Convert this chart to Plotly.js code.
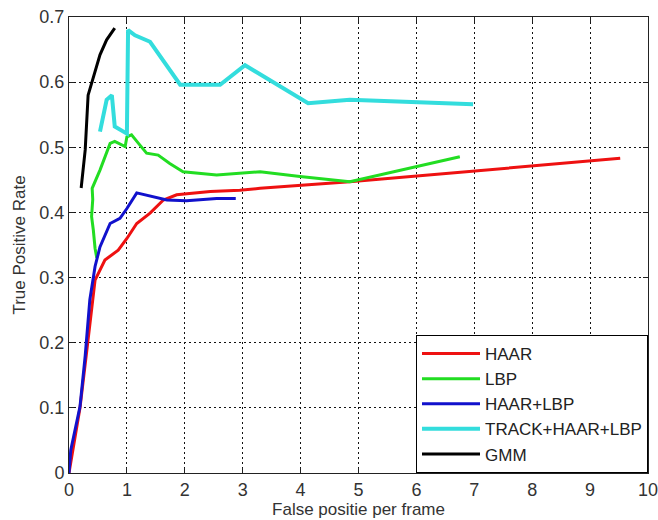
<!DOCTYPE html>
<html>
<head>
<meta charset="utf-8">
<script src="https://cdn.plot.ly/plotly-3.0.1.min.js"></script>
<style>html,body{margin:0;padding:0;background:#fff;}#chart{width:658px;height:520px;}</style>
</head>
<body>
<div id="chart"></div>
<script>
// Series (x: false positives per frame, y: true positive rate)
const haarX = [0, 0.02, 0.19, 0.31, 0.39, 0.45, 0.62, 0.85, 1.0, 1.17, 1.40, 1.63, 1.86, 2.44, 2.95, 3.3, 4.85, 8.13, 9.52];
const haarY = [0, 0.01, 0.10, 0.19, 0.255, 0.296, 0.327, 0.342, 0.36, 0.383, 0.399, 0.419, 0.427, 0.432, 0.434, 0.437, 0.447, 0.473, 0.483];

const lbpX = [0.48, 0.45, 0.42, 0.39, 0.41, 0.40, 0.535, 0.71, 0.79, 0.97, 1.0, 1.08, 1.2, 1.34, 1.54, 1.74, 1.97, 2.55, 3.3, 3.99, 4.85, 6.75];
const lbpY = [0.33, 0.345, 0.373, 0.394, 0.42, 0.437, 0.465, 0.506, 0.509, 0.501, 0.516, 0.519, 0.506, 0.491, 0.488, 0.475, 0.4625, 0.4575, 0.4625, 0.455, 0.447, 0.4855];

const haarLbpX = [0, 0.03, 0.19, 0.28, 0.36, 0.45, 0.535, 0.71, 0.88, 1.0, 1.17, 1.46, 1.69, 2.03, 2.55, 2.88];
const haarLbpY = [0, 0.035, 0.102, 0.18, 0.266, 0.317, 0.347, 0.383, 0.391, 0.406, 0.43, 0.424, 0.419, 0.418, 0.4215, 0.4215];

const trackX = [0.535, 0.65, 0.74, 0.79, 1.0, 1.02, 1.14, 1.40, 1.92, 2.61, 3.04, 4.13, 4.85, 6.98];
const trackY = [0.524, 0.573, 0.58, 0.532, 0.521, 0.68, 0.672, 0.662, 0.596, 0.596, 0.626, 0.5675, 0.573, 0.566];

const gmmX = [0.21, 0.28, 0.33, 0.42, 0.535, 0.65, 0.79];
const gmmY = [0.4375, 0.496, 0.58, 0.608, 0.642, 0.665, 0.683];

const seriesNames = ['HAAR', 'LBP', 'HAAR+LBP', 'TRACK+HAAR+LBP', 'GMM'];
const xTicks = [0, 1, 2, 3, 4, 5, 6, 7, 8, 9, 10];
const yTicks = [0, 0.1, 0.2, 0.3, 0.4, 0.5, 0.6, 0.7];

const styles = [
  {color: '#ee1111', width: 3},
  {color: '#22dd22', width: 3},
  {color: '#1111cc', width: 3},
  {color: '#33dddd', width: 4},
  {color: '#000000', width: 3}
];
const xs = [haarX, lbpX, haarLbpX, trackX, gmmX];
const ys = [haarY, lbpY, haarLbpY, trackY, gmmY];

const data = seriesNames.map((n, i) => ({
  x: xs[i], y: ys[i], name: n, type: 'scatter', mode: 'lines',
  line: {color: styles[i].color, width: styles[i].width}
}));

const font = 'Liberation Sans, Arial, sans-serif';
const axisCommon = {
  showline: true, linecolor: '#222', linewidth: 1, mirror: 'ticks',
  ticks: 'inside', ticklen: 5, tickcolor: '#222', tickwidth: 1,
  showgrid: true, gridcolor: '#111', gridwidth: 1, griddash: '2px,3px',
  zeroline: false, ticklabeloverflow: 'allow',
  tickfont: {family: font, size: 18, color: '#333'}
};

const layout = {
  width: 658, height: 520,
  margin: {l: 69, r: 10, t: 17, b: 47},
  paper_bgcolor: '#fff', plot_bgcolor: '#fff',
  showlegend: true,
  xaxis: Object.assign({}, axisCommon, {
    range: [0, 10], tickvals: xTicks, ticktext: xTicks.map(String),
    title: {text: 'False positie per frame', font: {family: font, size: 17, color: '#333'}, standoff: 4}
  }),
  yaxis: Object.assign({}, axisCommon, {
    range: [0, 0.7], tickvals: yTicks, ticktext: yTicks.map(v => v === 0 ? '0' : v.toFixed(1)),
    title: {text: 'True Positive Rate', font: {family: font, size: 17, color: '#333'}, standoff: 9}
  }),
  legend: {
    x: 1, y: 0, xanchor: 'right', yanchor: 'bottom',
    bgcolor: '#fff', bordercolor: '#000', borderwidth: 1,
    font: {family: font, size: 17, color: '#222'},
    itemwidth: 58, tracegroupgap: 0
  }
};

Plotly.newPlot('chart', data, layout, {displayModeBar: false, staticPlot: true});
</script>
</body>
</html>
